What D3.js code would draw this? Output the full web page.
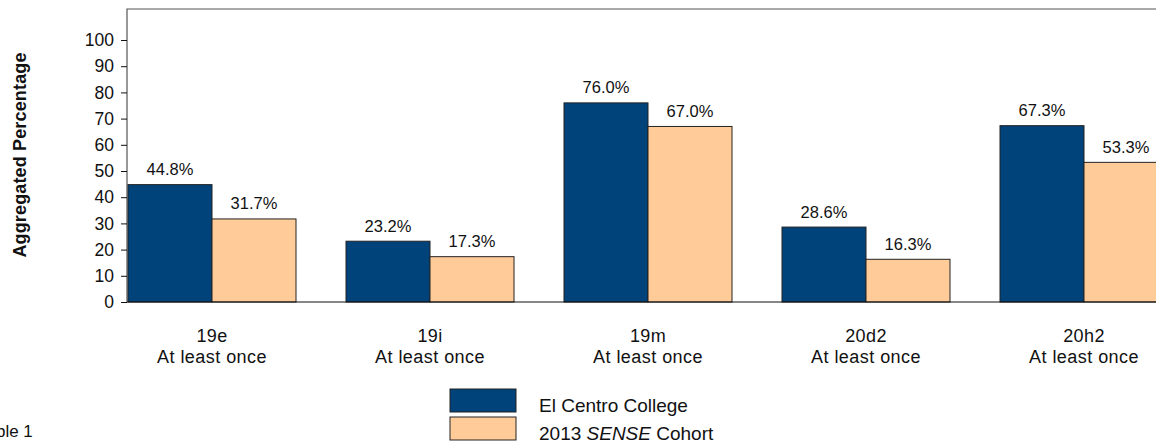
<!DOCTYPE html>
<html>
<head>
<meta charset="utf-8">
<script src="https://cdn.jsdelivr.net/npm/d3@7/dist/d3.min.js"></script>
<style>
  body { margin: 0; background: #fff; }
  svg { display: block; font-family: Arial, "Liberation Sans", sans-serif; }
</style>
</head>
<body>
<svg id="chart"></svg>
<script>
var categories = ["19e", "19i", "19m", "20d2", "20h2"]
var subLabel = "At least once"
var series = ["El Centro College", "2013 SENSE Cohort"]
var college = [44.8, 23.2, 76.0, 28.6, 67.3]
var cohort = [31.7, 17.3, 67.0, 16.3, 53.3]
var yTicks = [0, 10, 20, 30, 40, 50, 60, 70, 80, 90, 100]
var colors = ["#00427a", "#ffcc99"]

var screen = {width: 1156, height: 447}
var plot = {left: 127, top: 9, bottom: 302}

var svg = d3.select("#chart")
    .attr("width", screen.width)
    .attr("height", screen.height)

var xScale = d3.scaleBand()
    .domain(categories)
    .range([103, 103 + 5 * 218])
    .paddingInner(50 / 218)
    .paddingOuter(25 / 218)

var inner = d3.scaleBand()
    .domain(series)
    .range([0, xScale.bandwidth()])

var yScale = d3.scaleLinear()
    .domain([0, 100])
    .range([plot.bottom, 40])

// frame
svg.append("path")
    .attr("d", "M" + (screen.width + 5) + "," + plot.top + "H" + plot.left + "V" + plot.bottom)
    .attr("fill", "none")
    .attr("stroke", "#555")
    .attr("stroke-width", 1.2)

var rows = categories.map(function (c, i) {
    return {cat: c, values: [college[i], cohort[i]]}
})

var groups = svg.append("g").selectAll("g")
    .data(rows)
    .enter()
    .append("g")
    .attr("transform", function (d) { return "translate(" + xScale(d.cat) + ",0)" })

groups.selectAll("rect")
    .data(function (d) { return d.values.map(function (v, j) { return {s: series[j], v: v, j: j} }) })
    .enter()
    .append("rect")
    .attr("x", function (d) { return inner(d.s) })
    .attr("y", function (d) { return yScale(d.v) })
    .attr("width", inner.bandwidth())
    .attr("height", function (d) { return yScale(0) - yScale(d.v) })
    .attr("fill", function (d) { return colors[d.j] })
    .attr("stroke", "#222")
    .attr("stroke-width", 1)

groups.selectAll("text.value")
    .data(function (d) { return d.values.map(function (v, j) { return {s: series[j], v: v} }) })
    .enter()
    .append("text")
    .attr("class", "value")
    .attr("x", function (d) { return inner(d.s) + inner.bandwidth() / 2 })
    .attr("y", function (d) { return yScale(d.v) - 9.5 })
    .attr("text-anchor", "middle")
    .attr("font-size", 16.5)
    .attr("fill", "#111")
    .text(function (d) { return d.v.toFixed(1) + "%" })

// x axis line
svg.append("line")
    .attr("x1", plot.left).attr("x2", screen.width + 5)
    .attr("y1", plot.bottom).attr("y2", plot.bottom)
    .attr("stroke", "#111").attr("stroke-width", 1.2)

// category labels, two lines each
var catLabels = svg.append("g").selectAll("g")
    .data(categories)
    .enter()
    .append("g")
    .attr("transform", function (d) { return "translate(" + (xScale(d) + xScale.bandwidth() / 2) + ",0)" })
catLabels.append("text")
    .attr("y", 342)
    .attr("text-anchor", "middle")
    .attr("font-size", 18)
    .attr("letter-spacing", 0.4)
    .attr("fill", "#111")
    .text(function (d) { return d })
catLabels.append("text")
    .attr("y", 363)
    .attr("text-anchor", "middle")
    .attr("font-size", 18)
    .attr("letter-spacing", 0.45)
    .attr("fill", "#111")
    .text(subLabel)

// y axis
var yAxis = d3.axisLeft(yScale)
    .tickValues(yTicks)
    .tickSize(6)
    .tickPadding(7)
var ya = svg.append("g")
    .attr("transform", "translate(" + plot.left + ",0)")
    .call(yAxis)
ya.select(".domain").remove()
ya.selectAll("line").attr("stroke", "#111")
ya.selectAll("text")
    .attr("font-size", 17.5)
    .attr("font-family", "Arial, 'Liberation Sans', sans-serif")
    .attr("fill", "#111")

svg.append("text")
    .attr("transform", "translate(26,155) rotate(-90)")
    .attr("text-anchor", "middle")
    .attr("font-size", 18)
    .attr("letter-spacing", 0.15)
    .attr("font-weight", "bold")
    .attr("fill", "#111")
    .text("Aggregated Percentage")

// legend
var legend = svg.append("g").attr("transform", "translate(450,389)")
series.forEach(function (s, i) {
    legend.append("rect")
        .attr("x", 0).attr("y", i * 28)
        .attr("width", 66).attr("height", 23)
        .attr("fill", colors[i])
        .attr("stroke", "#222")
})
legend.append("text")
    .attr("x", 89).attr("y", 23)
    .attr("font-size", 19).attr("fill", "#111")
    .text(series[0])
var t2 = legend.append("text")
    .attr("x", 89).attr("y", 51)
    .attr("font-size", 19).attr("fill", "#111")
t2.append("tspan").text("2013 ")
t2.append("tspan").attr("font-style", "italic").text("SENSE")
t2.append("tspan").text(" Cohort")

svg.append("text")
    .attr("x", -22).attr("y", 437)
    .attr("font-size", 17).attr("fill", "#111")
    .text("Table 1")
</script>
</body>
</html>
